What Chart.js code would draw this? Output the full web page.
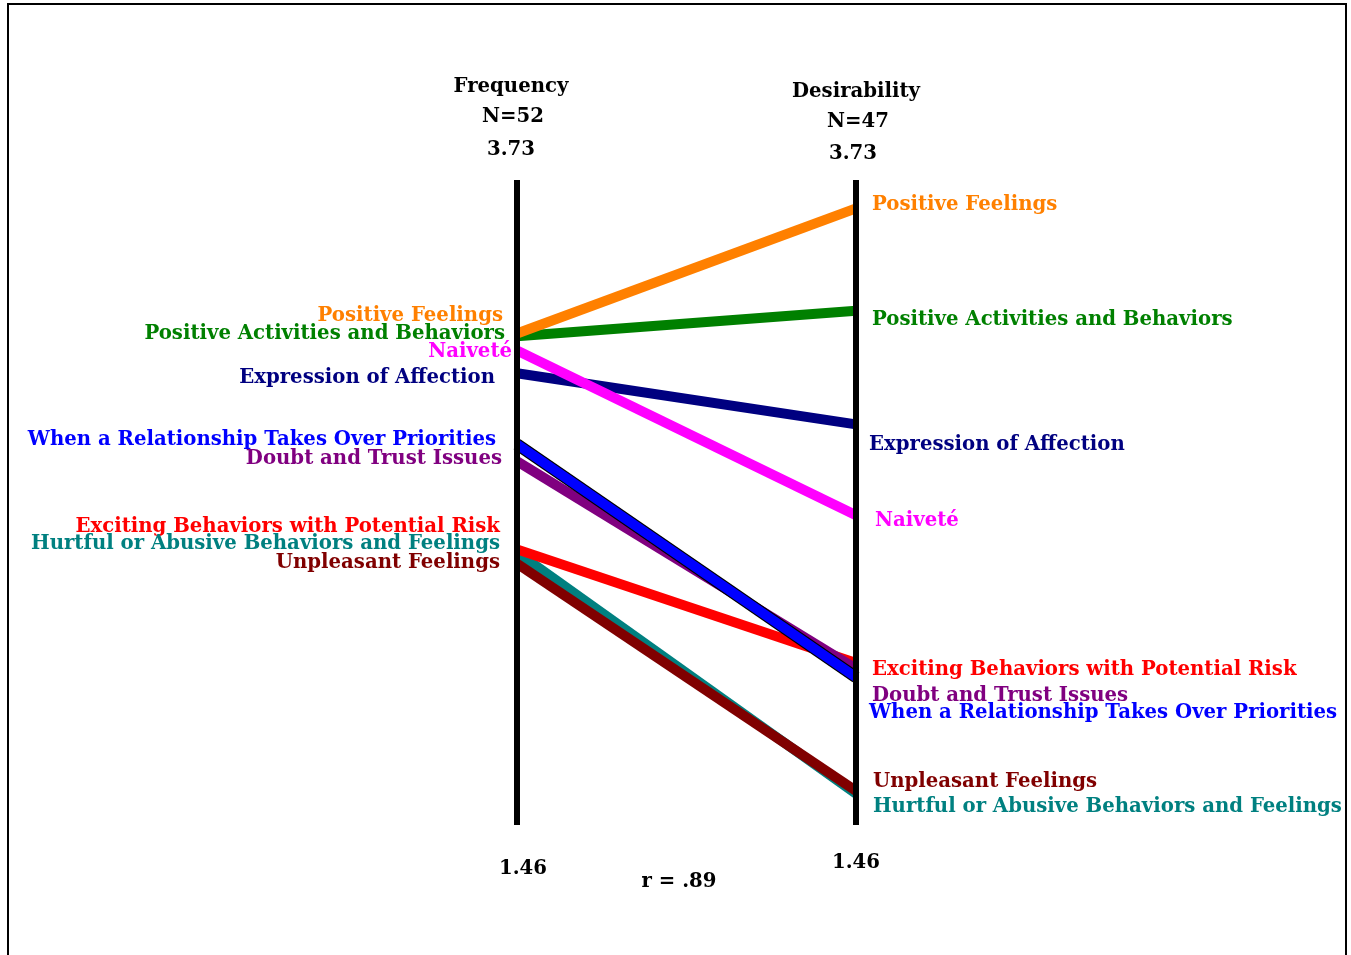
<!DOCTYPE html>
<html>
<head>
<meta charset="utf-8">
<script src="https://cdn.jsdelivr.net/npm/chart.js@4"></script>
<style>
  body { margin: 0; background: #fff; overflow: hidden; }
  #wrap { position: relative; width: 1351px; height: 955px; }
  #frame { position: absolute; left: 7px; top: 3px; width: 1336px; height: 1000px;
           border: 2px solid #000; border-bottom: none; }
  canvas { position: absolute; left: 0; top: 0; }
</style>
</head>
<body>
<div id="wrap">
  <div id="frame"></div>
  <canvas id="myChart" width="1351" height="955"></canvas>
</div>
<script>
// categories and their colours
const categories = [
    'Positive Feelings',
    'Positive Activities and Behaviors',
    'Naiveté',
    'Expression of Affection',
    'When a Relationship Takes Over Priorities',
    'Doubt and Trust Issues',
    'Exciting Behaviors with Potential Risk',
    'Hurtful or Abusive Behaviors and Feelings',
    'Unpleasant Feelings'
];
const colors = ['#ff8000', '#008000', '#ff00ff', '#000080', '#0000ff', '#800080', '#ff0000', '#008080', '#800000'];

// mean ratings on each axis
const frequency    = [3.19, 3.18, 3.13, 3.05, 2.80, 2.74, 2.43, 2.42, 2.38];
const desirability = [3.63, 3.27, 2.55, 2.87, 1.98, 2.01, 2.03, 1.57, 1.58];

// axis range / tick labels
const scaleMin = 1.46;
const scaleMax = 3.73;
const axisTitles = ['Frequency', 'Desirability'];
const axisN = ['N=52', 'N=47'];
const corrLabel = 'r = .89';

// label placement (pixel offsets so overlapping labels stay readable)
const leftLabelPos  = [[503, 314], [505, 332], [512, 350], [495, 376], [496, 438], [502, 457], [500, 525], [500, 542], [500, 561]];
const rightLabelPos = [[872, 203], [872, 318], [875, 519], [869, 443], [869, 711], [872, 694], [872, 668], [873, 805], [873, 780]];

// draw order: higher number is drawn underneath
const drawOrder = [5, 6, 3, 4, 1, 2, 7, 9, 8];

const FONT = 'bold 19.7px "DejaVu Serif"';
const TEXT_DY = 2; // middle baseline sits a bit high for this font

const datasets = [];
categories.forEach((c, i) => {
    datasets.push({
        label: c,
        data: [{ x: 0, y: frequency[i] }, { x: 1, y: desirability[i] }],
        borderColor: colors[i],
        borderWidth: 10,
        order: drawOrder[i],
        pointRadius: 0,
        borderCapStyle: 'butt',
        clip: false
    });
    if (c === 'When a Relationship Takes Over Priorities') {
        // thin black outline under the blue line
        datasets.push({
            label: '_outline',
            data: [{ x: 0, y: frequency[i] }, { x: 1, y: desirability[i] }],
            borderColor: '#000',
            borderWidth: 12,
            order: drawOrder[i] + 0.5,
            pointRadius: 0,
            borderCapStyle: 'butt',
            clip: false
        });
    }
});
// the two vertical axes
[0, 1].forEach(x => {
    datasets.push({
        label: '_axis',
        data: [{ x: x, y: scaleMin }, { x: x, y: scaleMax }],
        borderColor: '#000',
        borderWidth: 6,
        order: 0,
        pointRadius: 0,
        borderCapStyle: 'butt',
        clip: false
    });
});

const textPlugin = {
    id: 'slopeText',
    afterDraw(chart) {
        const c = chart.ctx;
        c.save();
        c.font = FONT;
        c.textBaseline = 'middle';
        c.translate(0, TEXT_DY);
        // category labels
        c.textAlign = 'right';
        categories.forEach((cat, i) => {
            c.fillStyle = colors[i];
            c.fillText(cat, leftLabelPos[i][0], leftLabelPos[i][1]);
        });
        c.textAlign = 'left';
        categories.forEach((cat, i) => {
            c.fillStyle = colors[i];
            c.fillText(cat, rightLabelPos[i][0], rightLabelPos[i][1]);
        });
        // headers and ticks
        c.fillStyle = '#000';
        c.textAlign = 'center';
        c.fillText(axisTitles[0], 511, 85);
        c.fillText(axisN[0], 513, 115);
        c.fillText(scaleMax.toFixed(2), 511, 148);
        c.fillText(axisTitles[1], 856, 90);
        c.fillText(axisN[1], 858, 120);
        c.fillText(scaleMax.toFixed(2), 853, 152);
        c.fillText(scaleMin.toFixed(2), 523, 867);
        c.fillText(scaleMin.toFixed(2), 856, 861);
        c.fillText(corrLabel, 679, 880);
        c.restore();
    }
};

const ctx = document.getElementById('myChart').getContext('2d');
const slopeChart = new Chart(ctx, {
    type: 'line',
    data: { datasets: datasets },
    options: {
        responsive: false,
        animation: false,
        layout: {
            padding: { left: 517, right: 1351 - 856, top: 180, bottom: 955 - 825 }
        },
        scales: {
            x: { type: 'linear', min: 0, max: 1, display: false },
            y: { type: 'linear', min: scaleMin, max: scaleMax, display: false }
        },
        plugins: {
            legend: { display: false },
            tooltip: { enabled: false }
        }
    },
    plugins: [textPlugin]
});
</script>
</body>
</html>
